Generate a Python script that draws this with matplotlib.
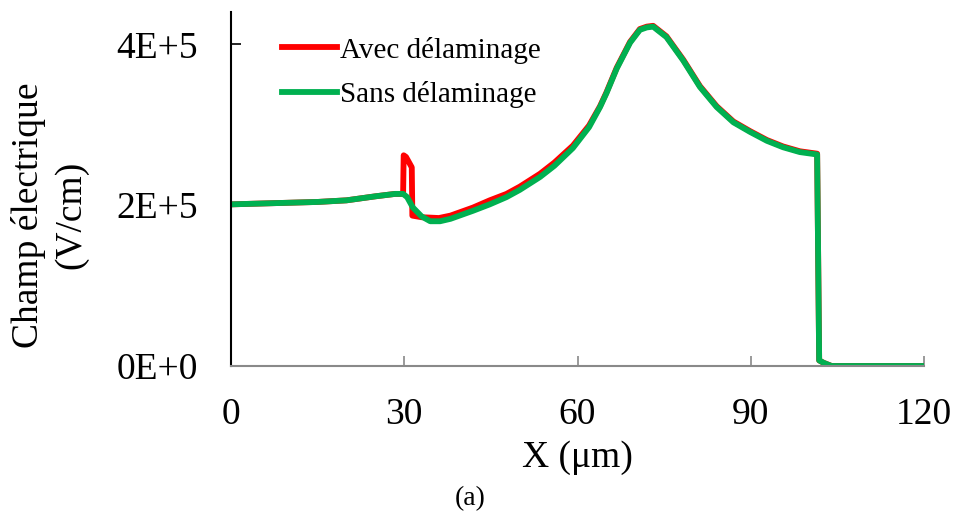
import numpy as np
import matplotlib
matplotlib.use("Agg")
import matplotlib.pyplot as plt

# Sans délaminage (green)
x_sans = [0, 5, 10, 15, 20, 25, 28.4, 29.8, 30.5, 31.5, 33, 34.5, 36.2, 38, 41.9,
          44.8, 47.7, 50, 53.5, 56, 59.2, 62, 63.9, 65, 66.8, 69.1, 70.8, 72, 73.1,
          75.4, 78.3, 81.2, 84.1, 87, 89.9, 92.8, 95.6, 98.5, 101.5, 101.85, 102.6,
          104, 110, 120]
y_sans = [2.01, 2.02, 2.03, 2.04, 2.06, 2.11, 2.14, 2.14, 2.10, 1.97, 1.86, 1.80,
          1.80, 1.83, 1.93, 2.01, 2.10, 2.19, 2.35, 2.49, 2.71, 2.97, 3.22, 3.39,
          3.70, 4.02, 4.18, 4.21, 4.22, 4.09, 3.80, 3.47, 3.22, 3.03, 2.91, 2.80,
          2.72, 2.66, 2.63, 0.07, 0.04, 0.0, 0.0, 0.0]

# Avec délaminage (red)
x_avec = [0, 5, 10, 15, 20, 25, 28.4, 29.8, 29.9, 30.3, 31.3, 31.4, 33, 36, 38,
          41.9, 44.8, 47.7, 50, 53.5, 56, 59.2, 62, 63.9, 65, 66.8, 69.1, 70.8, 72,
          73.1, 75.4, 78.3, 81.2, 84.1, 87, 89.9, 92.8, 95.6, 98.5, 101.5, 101.85,
          102.6, 104, 110, 120]
y_avec = [2.01, 2.02, 2.03, 2.04, 2.06, 2.11, 2.14, 2.14, 2.62, 2.60, 2.47, 1.87,
          1.85, 1.84, 1.87, 1.97, 2.06, 2.14, 2.23, 2.39, 2.53, 2.74, 2.99, 3.23,
          3.40, 3.71, 4.03, 4.19, 4.22, 4.23, 4.10, 3.81, 3.48, 3.23, 3.04, 2.92,
          2.81, 2.73, 2.67, 2.64, 0.07, 0.04, 0.0, 0.0, 0.0]

x_ticks = [0, 30, 60, 90, 120]
y_ticks = [0, 2e5, 4e5]
y_ticklabels = ["0E+0", "2E+5", "4E+5"]

plt.rcParams["font.family"] = ["Liberation Serif", "DejaVu Serif"]

fig = plt.figure(figsize=(9.57, 5.28), dpi=100)
ax = fig.add_axes([0.2414, 0.3068, 0.7241, 0.6702])

ax.plot(x_avec, np.array(y_avec) * 1e5, color="#FF0000", lw=4.2,
        solid_joinstyle="round", label="Avec délaminage")
ax.plot(x_sans, np.array(y_sans) * 1e5, color="#00B050", lw=4.2,
        solid_joinstyle="round", label="Sans délaminage")

ax.set_xlim(0, 120)
ax.set_ylim(0, 4.4e5)
ax.set_xticks(x_ticks)
ax.set_yticks(y_ticks)
ax.set_yticklabels(y_ticklabels)

for s in ["top", "right"]:
    ax.spines[s].set_visible(False)
ax.spines["left"].set_color("black")
ax.spines["left"].set_linewidth(1.5)
ax.spines["bottom"].set_color("#898989")
ax.spines["bottom"].set_linewidth(1.5)

ax.tick_params(axis="y", direction="in", length=7, width=1.2, color="black",
               labelsize=27, pad=24)
ax.tick_params(axis="x", direction="in", length=7, width=1.2, color="#898989",
               labelsize=27, pad=23)

ax.set_xlabel("X (μm)", fontsize=27, labelpad=6)
fig.text(0.052, 0.593, "Champ électrique\n(V/cm)", rotation=90, fontsize=27,
         ha="center", va="center", multialignment="center", linespacing=1.3)
fig.text(0.491, 0.056, "(a)", fontsize=20, ha="center", va="center")

ax.legend(loc="upper left", bbox_to_anchor=(0.035, 1.005), frameon=False,
          fontsize=21, handlelength=1.9, handletextpad=0.12, labelspacing=0.6)

fig.savefig("out.png", dpi=100)
